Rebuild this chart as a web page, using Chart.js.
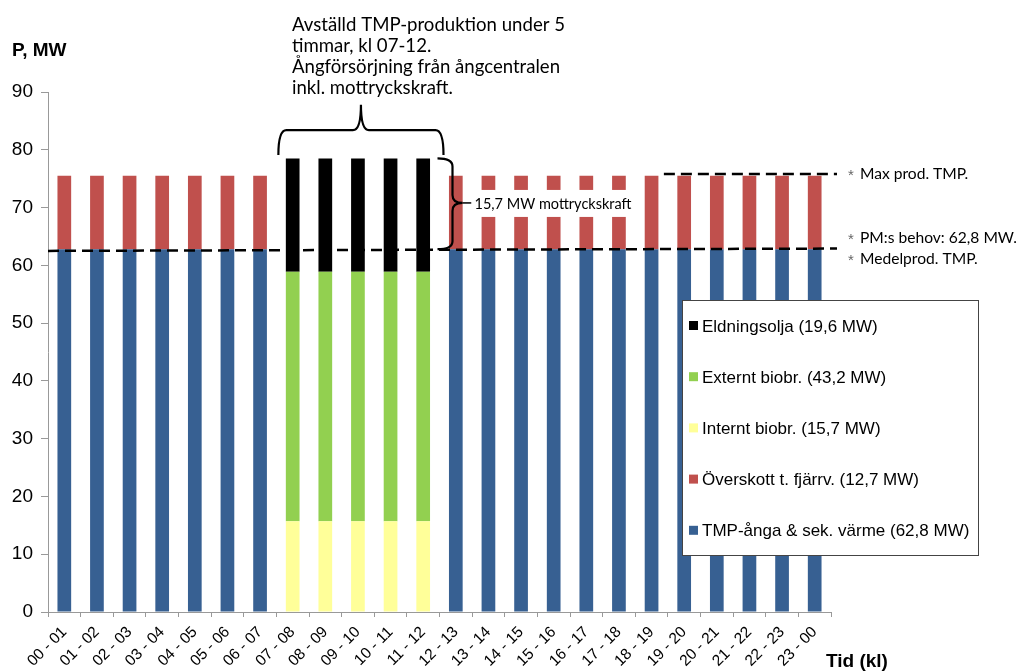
<!DOCTYPE html>
<html>
<head>
<meta charset="utf-8">
<script src="https://cdn.jsdelivr.net/npm/chart.js@4/dist/chart.umd.min.js"></script>
<style>
  html, body { margin: 0; padding: 0; background: #fff; }
  canvas { display: block; }
</style>
</head>
<body>
<canvas id="c" width="1019" height="672"></canvas>
<script>
// Hourly intervals of the day
const hours = ['00 - 01','01 - 02','02 - 03','03 - 04','04 - 05','05 - 06','06 - 07','07 - 08',
               '08 - 09','09 - 10','10 - 11','11 - 12','12 - 13','13 - 14','14 - 15','15 - 16',
               '16 - 17','17 - 18','18 - 19','19 - 20','20 - 21','21 - 22','22 - 23','23 - 00'];

// Steam supply per hour, MW (TMP shut down 07-12)
const tmpSteam   = [62.8,62.8,62.8,62.8,62.8,62.8,62.8,null,null,null,null,null,
                    62.8,62.8,62.8,62.8,62.8,62.8,62.8,62.8,62.8,62.8,62.8,62.8];
const surplus    = [12.7,12.7,12.7,12.7,12.7,12.7,12.7,null,null,null,null,null,
                    12.7,12.7,12.7,12.7,12.7,12.7,12.7,12.7,12.7,12.7,12.7,12.7];
const internBio  = [null,null,null,null,null,null,null,15.7,15.7,15.7,15.7,15.7,
                    null,null,null,null,null,null,null,null,null,null,null,null];
const externBio  = [null,null,null,null,null,null,null,43.2,43.2,43.2,43.2,43.2,
                    null,null,null,null,null,null,null,null,null,null,null,null];
const fuelOil    = [null,null,null,null,null,null,null,19.6,19.6,19.6,19.6,19.6,
                    null,null,null,null,null,null,null,null,null,null,null,null];

const yTicks = [0,10,20,30,40,50,60,70,80,90];

// Reference levels, MW
const demandLevelStart = 62.5;   // PM demand / mean TMP production (left end)
const demandLevelEnd   = 62.9;   // same line, right end
const maxProdLevel     = 75.8;   // max TMP production
const maxProdFromHour  = 19;     // max-production line starts at this interval boundary

// Shutdown period bracket (interval boundaries) and levels
const shutdownFrom = 7, shutdownTo = 12;
const braceEndLevel = 79.1, braceLevel = 83.4, braceTipLevel = 87.8;
const backPressTop = 78.5, backPressBottom = 62.8, backPressMid = 70.8;

const noteLines = ['Avställd TMP-produktion under 5', 'timmar, kl 07-12.',
                   'Ångförsörjning från ångcentralen', 'inkl. mottryckskraft.'];
const backPressLabel = '15,7 MW mottryckskraft';

const COLORS = {
  oil: '#000000', ext: '#92D050', int: '#FFFF99', surplus: '#C0504D', tmp: '#376092'
};

const calibri = '"Lato", "Open Sans", sans-serif';
const arial = 'Arial, "Liberation Sans", sans-serif';

const overlay = {
  id: 'overlay',
  afterDatasetsDraw(chart) {
    const ctx = chart.ctx;
    const xs = chart.scales.x, ys = chart.scales.y;
    const cw = xs.getPixelForValue(1) - xs.getPixelForValue(0);
    const bx = i => xs.getPixelForValue(i) - cw / 2;   // boundary before interval i
    const Y = v => ys.getPixelForValue(v);

    ctx.save();
    // dashed reference lines
    ctx.strokeStyle = '#000';
    ctx.lineWidth = 2.5;
    ctx.setLineDash([11, 6]);
    ctx.beginPath();
    ctx.moveTo(bx(0), Y(demandLevelStart));
    ctx.lineTo(bx(24) + 6, Y(demandLevelEnd));
    ctx.stroke();
    ctx.beginPath();
    ctx.moveTo(bx(maxProdFromHour) - 4, Y(maxProdLevel));
    ctx.lineTo(bx(24) + 6, Y(maxProdLevel));
    ctx.stroke();
    ctx.setLineDash([]);

    // horizontal curly brace over the shutdown hours
    const x1 = bx(shutdownFrom) + 2, x2 = bx(shutdownTo) + 4, xm = (x1 + x2) / 2;
    const yE = Y(braceEndLevel), yL = Y(braceLevel), yT = Y(braceTipLevel);
    const r = 8;
    ctx.lineWidth = 2.2;
    ctx.beginPath();
    ctx.moveTo(x1, yE);
    ctx.quadraticCurveTo(x1, yL, x1 + r, yL);
    ctx.lineTo(xm - r, yL);
    ctx.quadraticCurveTo(xm, yL, xm, yT);
    ctx.quadraticCurveTo(xm, yL, xm + r, yL);
    ctx.lineTo(x2 - r, yL);
    ctx.quadraticCurveTo(x2, yL, x2, yE);
    ctx.stroke();

    // vertical curly brace for the back-pressure power
    const sx = bx(shutdownTo) + 13, hx = bx(shutdownTo) - 2, tx = sx + 10;
    const yt = Y(backPressTop), yb = Y(backPressBottom), ym = Y(backPressMid);
    ctx.beginPath();
    ctx.moveTo(hx, yt);
    ctx.quadraticCurveTo(sx, yt, sx, yt + r);
    ctx.lineTo(sx, ym - r);
    ctx.quadraticCurveTo(sx, ym, tx, ym);
    ctx.quadraticCurveTo(sx, ym, sx, ym + r);
    ctx.lineTo(sx, yb - r);
    ctx.quadraticCurveTo(sx, yb, hx, yb);
    ctx.stroke();
    ctx.lineWidth = 1.5;
    ctx.beginPath();
    ctx.moveTo(tx, ym);
    ctx.lineTo(tx + 9, ym);
    ctx.stroke();

    // back-pressure label on white background
    ctx.font = '14.5px ' + calibri;
    const lw = ctx.measureText(backPressLabel).width;
    const lx = tx + 9;
    ctx.fillStyle = '#fff';
    ctx.fillRect(lx, ym - 13, lw + 8, 27);
    ctx.fillStyle = '#000';
    ctx.textBaseline = 'middle';
    ctx.textAlign = 'left';
    ctx.fillText(backPressLabel, lx + 3, ym + 1);

    // note above the bracket
    ctx.font = '18.6px ' + calibri;
    noteLines.forEach((t, i) => ctx.fillText(t, 292, 25 + i * 21));

    // notes at right end of the reference lines
    const notes = [
      [Y(maxProdLevel), 'Max prod. TMP.'],
      [Y(demandLevelEnd) - 11, 'PM:s behov: 62,8 MW.'],
      [Y(demandLevelEnd) + 10, 'Medelprod. TMP.']
    ];
    notes.forEach(([y, t]) => {
      ctx.fillStyle = '#666';
      ctx.font = '15px ' + arial;
      ctx.fillText('*', 848, y + 2);
      ctx.fillStyle = '#000';
      ctx.font = '15.6px ' + calibri;
      ctx.fillText(t, 860, y);
    });

    // legend box
    const lgX = 682, lgY = 300, lgW = 296, lgH = 255;
    ctx.fillStyle = '#fff';
    ctx.fillRect(lgX, lgY, lgW, lgH);
    ctx.strokeStyle = '#444';
    ctx.lineWidth = 1;
    ctx.strokeRect(lgX + 0.5, lgY + 0.5, lgW, lgH);
    const items = chart.data.datasets.slice().reverse();
    ctx.font = '17px ' + arial;
    items.forEach((d, i) => {
      const cy = 326 + i * 51.2;
      ctx.fillStyle = d.backgroundColor;
      ctx.fillRect(689, cy - 5, 9, 9);
      ctx.fillStyle = '#000';
      ctx.fillText(d.label, 702, cy + 1);
    });

    // axis titles
    ctx.font = 'bold 19px ' + arial;
    ctx.fillText('P, MW', 12, 51);
    ctx.fillText('Tid (kl)', 826, 662);
    ctx.restore();
  }
};

new Chart(document.getElementById('c'), {
  type: 'bar',
  data: {
    labels: hours,
    datasets: [
      { label: 'TMP-ånga & sek. värme (62,8 MW)', data: tmpSteam,  backgroundColor: COLORS.tmp },
      { label: 'Överskott t. fjärrv. (12,7 MW)',  data: surplus,   backgroundColor: COLORS.surplus },
      { label: 'Internt biobr. (15,7 MW)',        data: internBio, backgroundColor: COLORS.int },
      { label: 'Externt biobr. (43,2 MW)',        data: externBio, backgroundColor: COLORS.ext },
      { label: 'Eldningsolja (19,6 MW)',          data: fuelOil,   backgroundColor: COLORS.oil }
    ]
  },
  options: {
    responsive: false,
    animation: false,
    devicePixelRatio: 1,
    layout: { padding: { top: 92, right: 188, left: 0, bottom: 0 } },
    datasets: { bar: { categoryPercentage: 1, barPercentage: 0.42 } },
    plugins: { legend: { display: false }, tooltip: { enabled: false } },
    scales: {
      x: {
        stacked: true,
        afterFit: s => { s.height = 60; },
        grid: { offset: true, drawOnChartArea: false, drawTicks: true, tickLength: 5, color: '#999' },
        border: { display: true, color: '#999' },
        ticks: {
          autoSkip: false, maxRotation: 45, minRotation: 45, padding: 6,
          color: '#000', font: { family: arial, size: 15.5 }
        }
      },
      y: {
        stacked: true,
        min: 0, max: 90,
        afterFit: s => { s.width = 48; },
        afterBuildTicks: s => { s.ticks = yTicks.map(v => ({ value: v })); },
        grid: { drawOnChartArea: false, drawTicks: true, tickLength: 7, color: '#999' },
        border: { display: true, color: '#999' },
        ticks: {
          padding: 8, color: '#000',
          font: { family: arial, size: 19 }
        }
      }
    }
  },
  plugins: [overlay]
});
</script>
</body>
</html>
